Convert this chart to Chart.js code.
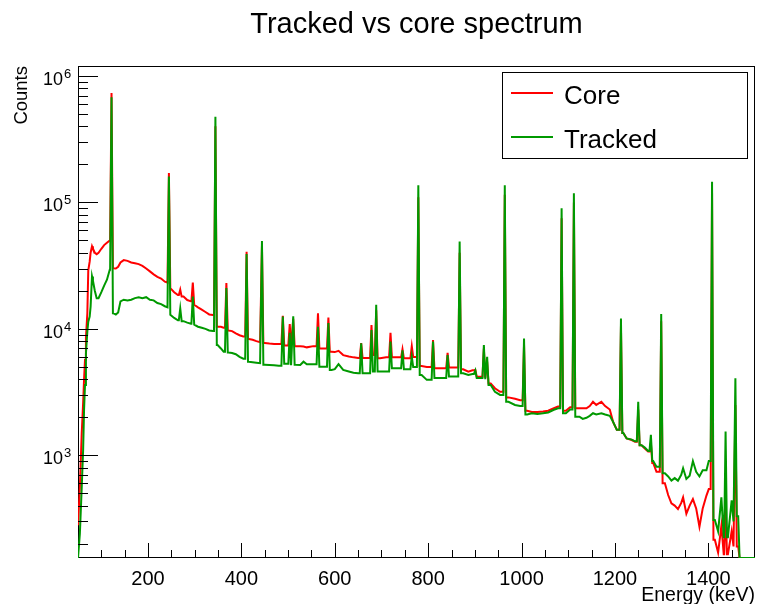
<!DOCTYPE html>
<html>
<head>
<meta charset="utf-8">
<title>Tracked vs core spectrum</title>
<script src="https://cdn.jsdelivr.net/npm/chart.js@4.4.1/dist/chart.umd.min.js"></script>
<style>
  html, body { margin: 0; padding: 0; background: #fff; }
  canvas { display: block; }
</style>
</head>
<body>
<canvas id="spectrum" width="757" height="604"></canvas>
<script>
// continuum sample points (keV), shared by both spectra
const contEnergy = [
  50, 54, 58, 61, 63, 65, 67, 70, 72, 75, 77, 80, 82, 86, 90, 94, 100, 106, 112, 118,
  125, 131, 136, 141, 148, 156, 164, 172, 180, 188, 196, 204, 212, 220, 228, 236, 242, 248,
  256, 264, 276, 284, 292, 300, 307, 315, 323, 331, 339, 349, 356, 362, 372, 380, 388, 396,
  404, 416, 424, 432, 440, 450, 460, 470, 480, 496, 506, 516, 526, 533, 540, 554, 572, 593,
  600, 608, 618, 630, 640, 650, 664, 683, 697, 710, 729, 754, 770, 786, 797, 822, 854, 875,
  886, 895, 906, 923, 934, 943, 954, 972, 986, 997, 1012, 1022, 1034, 1046, 1057, 1068, 1078,
  1095, 1104, 1124, 1131, 1139, 1146, 1153, 1160, 1171, 1179, 1189, 1196, 1204, 1218, 1225,
  1236, 1243, 1257, 1264, 1271, 1282, 1289, 1307, 1314, 1321, 1328, 1335, 1342, 1346, 1353,
  1360, 1367, 1374, 1381, 1388, 1396, 1401, 1414, 1421, 1428, 1433, 1442, 1450, 1454, 1464,
  1467, 1500
];
const coreCont = [
  280, 560, 1500, 2600, 4000, 5700, 8500, 13300, 29000, 34000, 40000, 45000, 43000, 40000, 39000, 40000, 43000, 46000, 48000, 50000,
  30200, 30000, 31000, 33500, 35000, 34500, 33500, 33000, 32500, 31500, 30000, 28500, 27000, 25800, 25000, 23600, 23200, 21000,
  19500, 18500, 18000, 16900, 16500, 15500, 14800, 14200, 13600, 13000, 12900, 10400, 10400, 10200, 9700, 9600, 9200, 8900,
  8700, 8300, 8200, 8000, 7850, 7730, 7650, 7600, 7600, 7400, 7350, 7300, 7300, 7250, 7140, 7300, 7000, 6600,
  6550, 6700, 6200, 6050, 5950, 5880, 5880, 6200, 5850, 5950, 5950, 5850, 6000, 5080, 5000, 4870, 4950, 4790,
  4590, 4700, 4180, 4100, 3700, 3390, 3180, 2870, 2800, 2730, 2250, 2200, 2200, 2220, 2250, 2350, 2430,
  2250, 2400, 2350, 2350, 2350, 2450, 2650, 2500, 2650, 2450, 2300, 1840, 1590, 1500, 1360,
  1320, 1280, 1200, 1130, 1070, 870, 740, 600, 485, 417, 400, 375, 420, 465, 345,
  400, 450, 380, 272, 380, 480, 540, 215, 170, 277, 165, 165, 250, 190, 190,
  154, 154
];
const trackedCont = [
  154, 240, 560, 1100, 2300, 3600, 6400, 9500, 11400, 12500, 15000, 26000, 24000, 20000, 17500, 17500, 19500, 22000, 24500, 29300,
  13300, 13000, 13500, 16500, 17000, 16800, 17000, 17500, 17800, 17500, 17800, 17000, 16800, 16000, 15700, 15100, 14800, 12900,
  12200, 11700, 11500, 11200, 11000, 10800, 10400, 10200, 10000, 9700, 9600, 7450, 7000, 6600, 6500, 6450, 6300, 6000,
  5800, 5500, 5450, 5400, 5350, 5200, 5180, 5150, 5100, 5300, 5250, 5200, 5180, 5500, 5250, 5250, 5020, 4730,
  4800, 5250, 4730, 4600, 4500, 4450, 4450, 4600, 4590, 4600, 4870, 4800, 5000, 4310, 3950, 4080, 4200, 4450,
  4310, 4400, 4080, 4000, 3600, 3180, 3000, 2650, 2500, 2450, 2100, 2150, 2120, 2150, 2180, 2280, 2350,
  2150, 2300, 2020, 1940, 1980, 2050, 2150, 2100, 2150, 2100, 2050, 1840, 1590, 1500, 1360,
  1330, 1290, 1200, 1150, 1080, 900, 810, 720, 680, 630, 660, 630, 700, 790, 650,
  690, 900, 740, 680, 760, 760, 900, 308, 250, 465, 225, 225, 440, 300, 330,
  154, 154
];

// photopeaks: position (keV) and top counts
const peakEnergy = [
  121.8, 244.7, 269, 295.9, 344.3, 367.8, 411.1, 444.0, 488.7, 503.5, 511.0, 564.0, 586.3,
  656.5, 678.6, 688.7, 719.3, 745, 764.9, 778.9, 810.4, 841.6, 867.4, 901, 919.3, 926.3,
  964.1, 1005.3, 1085.8, 1112.1, 1212.9, 1249.9, 1277, 1299.1, 1408.0, 1437, 1458
];
const corePeak = [
  735000, 171000, 20400, 23200, 400000, 23000, 40700, 45000, 12700, 10900, 12000, 13300, 12300,
  7730, 10700, 14000, 9300, 6900, 7300, 110000, 8170, 6460, 40000, 4730, 7000, 5500,
  115000, 7500, 75000, 100000, 10500, 2300, 1250, 11500, 120000, 400, 2500
];
const trackedPeak = [
  680000, 160000, 14500, 18000, 476000, 21000, 39000, 49500, 12500, 9300, 12600, 10400, 11100,
  7700, 9800, 15500, 7940, 6760, 6030, 137000, 7940, 6200, 49000, 4700, 7450, 6000,
  137000, 8400, 90000, 118000, 12100, 2650, 1450, 13100, 146000, 1540, 4070
];

const xTickLabels = [200, 400, 600, 800, 1000, 1200, 1400];
const yDecades = [3, 4, 5, 6];

const FONT = '"Liberation Sans", Arial, Helvetica, sans-serif';
const PEAK_HALF = 3; // keV either side of a peak top

// merge continuum and peaks into one sorted point list
function buildSpectrum(cont, peaks) {
  const pts = contEnergy.map((e, i) => ({ x: e, y: cont[i] }));
  peakEnergy.forEach((e, j) => {
    const k = contEnergy.findIndex((c) => c > e);
    pts.push({ x: e - PEAK_HALF, y: cont[k - 1] });
    pts.push({ x: e, y: peaks[j] });
    pts.push({ x: e + PEAK_HALF, y: cont[k] });
  });
  return pts.sort((a, b) => a.x - b.x);
}

// ROOT style frame, inside ticks, labels, title and legend box
const rootFrame = {
  id: "rootFrame",
  beforeDatasetsDraw(chart) {
    const { ctx, chartArea: a } = chart;
    ctx.save();
    ctx.strokeStyle = "#000";
    ctx.lineWidth = 1;
    ctx.strokeRect(a.left + 0.5, a.top + 0.5, a.right - a.left - 1, a.bottom - a.top - 1);
    ctx.restore();
  },
  afterDraw(chart) {
    const { ctx, chartArea: a } = chart;
    const xs = chart.scales.x;
    const ys = chart.scales.y;
    ctx.save();
    ctx.strokeStyle = "#000";
    ctx.lineWidth = 1;

    // x ticks every 50 keV, long ones at labels
    ctx.beginPath();
    for (let e = 100; e < xs.max; e += 50) {
      const px = Math.round(xs.getPixelForValue(e)) + 0.5;
      const len = xTickLabels.includes(e) ? 15 : 8;
      ctx.moveTo(px, a.bottom);
      ctx.lineTo(px, a.bottom - len);
    }
    // y ticks: decades long, 2..9 short
    yDecades.forEach((d) => {
      for (let m = 1; m <= 9; m++) {
        const v = m * Math.pow(10, d);
        if (v < ys.min || v > ys.max) continue;
        const py = Math.round(ys.getPixelForValue(v)) + 0.5;
        ctx.moveTo(a.left, py);
        ctx.lineTo(a.left + (m === 1 ? 20 : 10), py);
      }
    });
    for (let m = 2; m <= 9; m++) {
      const v = m * 100;
      if (v < ys.min) continue;
      const py = Math.round(ys.getPixelForValue(v)) + 0.5;
      ctx.moveTo(a.left, py);
      ctx.lineTo(a.left + 10, py);
    }
    ctx.stroke();

    ctx.fillStyle = "#000";
    ctx.textBaseline = "alphabetic";

    // x tick labels
    ctx.font = "20px " + FONT;
    ctx.textAlign = "center";
    xTickLabels.forEach((e) => {
      ctx.fillText(String(e), xs.getPixelForValue(e), 585);
    });

    // y tick labels 10^n
    yDecades.forEach((d) => {
      const py = ys.getPixelForValue(Math.pow(10, d));
      ctx.font = "18px " + FONT;
      ctx.textAlign = "right";
      ctx.fillText("10", 63, py + 9);
      ctx.font = "13px " + FONT;
      ctx.textAlign = "left";
      ctx.fillText(String(d), 64, py + 2);
    });

    // axis titles
    ctx.font = "19.5px " + FONT;
    ctx.textAlign = "right";
    ctx.fillText("Energy (keV)", a.right, 601);
    ctx.save();
    ctx.translate(27, a.top);
    ctx.rotate(-Math.PI / 2);
    ctx.font = "18.5px " + FONT;
    ctx.textAlign = "right";
    ctx.fillText("Counts", 0, 0);
    ctx.restore();

    // title
    ctx.font = "29px " + FONT;
    ctx.textAlign = "center";
    ctx.fillText("Tracked vs core spectrum", (a.left + a.right) / 2, 33);

    // legend
    ctx.fillStyle = "#fff";
    ctx.fillRect(502, 72, 245, 86);
    ctx.strokeStyle = "#000";
    ctx.lineWidth = 1;
    ctx.strokeRect(502.5, 72.5, 245, 86);
    ctx.font = "26px " + FONT;
    ctx.textAlign = "left";
    const rows = [93, 137];
    chart.data.datasets.forEach((ds, i) => {
      ctx.strokeStyle = ds.borderColor;
      ctx.lineWidth = 2;
      ctx.beginPath();
      ctx.moveTo(511, rows[i]);
      ctx.lineTo(553, rows[i]);
      ctx.stroke();
      ctx.fillStyle = "#000";
      ctx.fillText(ds.label, 564, rows[i] + 11);
    });

    ctx.restore();
  },
};

const ctx = document.getElementById("spectrum");
new Chart(ctx, {
  type: "line",
  data: {
    datasets: [
      {
        label: "Core",
        data: buildSpectrum(coreCont, corePeak),
        borderColor: "#ff0000",
        borderWidth: 2,
        pointRadius: 0,
        tension: 0,
        order: 2,
      },
      {
        label: "Tracked",
        data: buildSpectrum(trackedCont, trackedPeak),
        borderColor: "#009900",
        borderWidth: 2,
        pointRadius: 0,
        tension: 0,
        order: 1,
      },
    ],
  },
  options: {
    responsive: false,
    animation: false,
    events: [],
    layout: { padding: { left: 78, top: 66, right: 2, bottom: 46 } },
    plugins: {
      legend: { display: false },
      title: { display: false },
      tooltip: { enabled: false },
    },
    scales: {
      x: { type: "linear", min: 50, max: 1500, display: false },
      y: { type: "logarithmic", min: 154, max: 1.2e6, display: false },
    },
  },
  plugins: [rootFrame],
});
</script>
</body>
</html>
